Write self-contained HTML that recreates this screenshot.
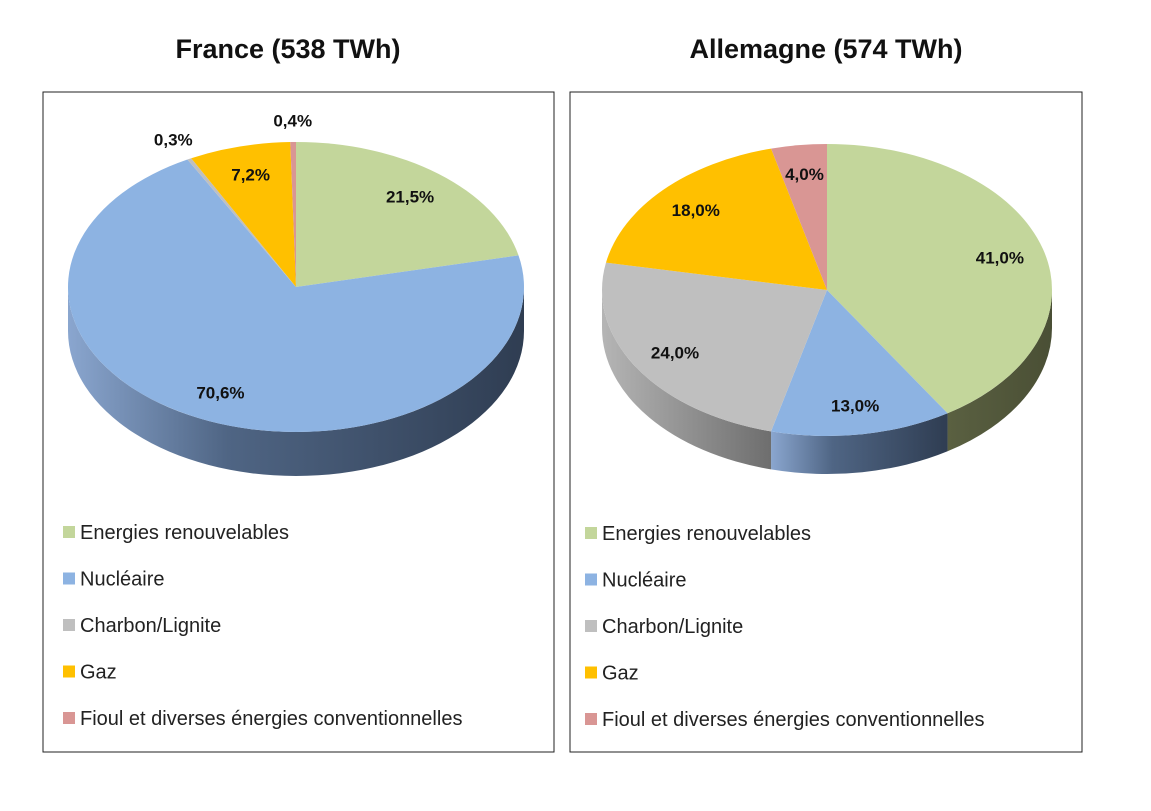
<!DOCTYPE html>
<html><head><meta charset="utf-8"><style>
body{margin:0;background:#fff;width:1151px;height:811px;overflow:hidden;font-family:"Liberation Sans","DejaVu Sans",sans-serif}
svg{display:block}
</style></head><body>
<svg width="1151" height="811" xmlns="http://www.w3.org/2000/svg" id="chart">
<defs>
<linearGradient id="gNuc" x1="0" x2="1" y1="0" y2="0"><stop offset="0" stop-color="#8aa6cf"/><stop offset="0.35" stop-color="#4f6584"/><stop offset="1" stop-color="#2f3d52"/></linearGradient>
<linearGradient id="gCh" x1="0" x2="1" y1="0" y2="0"><stop offset="0" stop-color="#b5b5b5"/><stop offset="1" stop-color="#6e6e6e"/></linearGradient>
<linearGradient id="gRen" x1="0" x2="1" y1="0" y2="0"><stop offset="0" stop-color="#5a6041"/><stop offset="1" stop-color="#4a4f35"/></linearGradient>
<linearGradient id="gGaz" x1="0" x2="1" y1="0" y2="0"><stop offset="0" stop-color="#b08400"/><stop offset="1" stop-color="#7d5e00"/></linearGradient>
<linearGradient id="gFi" x1="0" x2="1" y1="0" y2="0"><stop offset="0" stop-color="#a86c6c"/><stop offset="1" stop-color="#7a4d4d"/></linearGradient>
</defs>
<rect x="43" y="92" width="511" height="660" fill="#fff" stroke="#222" stroke-width="1"/>
<rect x="570" y="92" width="512" height="660" fill="#fff" stroke="#222" stroke-width="1"/>
<text x="288" y="58" text-anchor="middle" font-size="27" font-weight="bold" fill="#111">France (538 TWh)</text>
<text x="826" y="58" text-anchor="middle" font-size="27" font-weight="bold" fill="#111">Allemagne (574 TWh)</text>
<g id="pies"></g>
<g id="legends"></g>
</svg>
<script>
const categories=["Energies renouvelables","Nucléaire","Charbon/Lignite","Gaz","Fioul et diverses énergies conventionnelles"];
const franceValues=[21.5,70.6,0.3,7.2,0.4];
const germanyValues=[41.0,13.0,24.0,18.0,4.0];
const franceLabels=["21,5%","70,6%","0,3%","7,2%","0,4%"];
const germanyLabels=["41,0%","13,0%","24,0%","18,0%","4,0%"];
const colors=["#c3d69b","#8db3e2","#bfbfbf","#ffc000","#d99694"];
const sideFills=["url(#gRen)","url(#gNuc)","url(#gCh)","url(#gGaz)","url(#gFi)"];
const NS="http://www.w3.org/2000/svg";
const pies=document.getElementById('pies');
const legends=document.getElementById('legends');
function mk(tag,attrs){const e=document.createElementNS(NS,tag);for(const k in attrs)e.setAttribute(k,attrs[k]);return e;}
function drawPie(name,vals,labels,cx,cy,rx,ry,depth,lx,ly){
  const total=vals.reduce((a,b)=>a+b,0);
  const pt=(a,r)=>[cx+rx*r*Math.sin(a),cy-ry*r*Math.cos(a)];
  let acc=0;const sl=[];
  vals.forEach((v,i)=>{const a1=acc/total*2*Math.PI;acc+=v;const a2=acc/total*2*Math.PI;sl.push([a1,a2]);});
  // sides
  sl.forEach(([a1,a2],i)=>{
    const s=Math.max(a1,Math.PI/2),e=Math.min(a2,1.5*Math.PI);
    if(e<=s)return;
    const p1=pt(s,1),p2=pt(e,1);
    const d=`M${p1[0]},${p1[1]} A${rx},${ry} 0 0 1 ${p2[0]},${p2[1]} L${p2[0]},${p2[1]+depth} A${rx},${ry} 0 0 0 ${p1[0]},${p1[1]+depth} Z`;
    const p=mk('path',{d:d,fill:sideFills[i]});
    
    
    pies.appendChild(p);
  });
  // tops
  sl.forEach(([a1,a2],i)=>{
    if(a2-a1<1e-6)return;
    const p1=pt(a1,1),p2=pt(a2,1);const large=(a2-a1)>Math.PI?1:0;
    const p=mk('path',{d:`M${cx},${cy} L${p1[0]},${p1[1]} A${rx},${ry} 0 ${large} 1 ${p2[0]},${p2[1]} Z`,fill:colors[i]});
    
    
    pies.appendChild(p);
  });
  sl.forEach(([a1,a2],i)=>{
    const m=(a1+a2)/2;const frac=vals[i]/total;
    const r=frac<0.01?1.15:0.8;
    const [x,y]=pt(m,r);
    const t=mk('text',{x:x,y:y+6,'text-anchor':'middle','font-size':17,'font-weight':'bold',fill:'#111'});
    t.textContent=labels[i];
    
    
    pies.appendChild(t);
  });
  categories.forEach((c,i)=>{
    const y=ly+i*46.5;
    const r=mk('rect',{x:lx,y:y-6,width:12,height:12,fill:colors[i]});
    
    
    legends.appendChild(r);
    const t=mk('text',{x:lx+17,y:y+7,'font-size':20,fill:'#222'});
    t.textContent=c;
    
    
    legends.appendChild(t);
  });
}
drawPie('france',franceValues,franceLabels,296,287,228,145,44,63,532);
drawPie('germany',germanyValues,germanyLabels,827,290,225,146,38,585,533);
</script>
</body></html>
